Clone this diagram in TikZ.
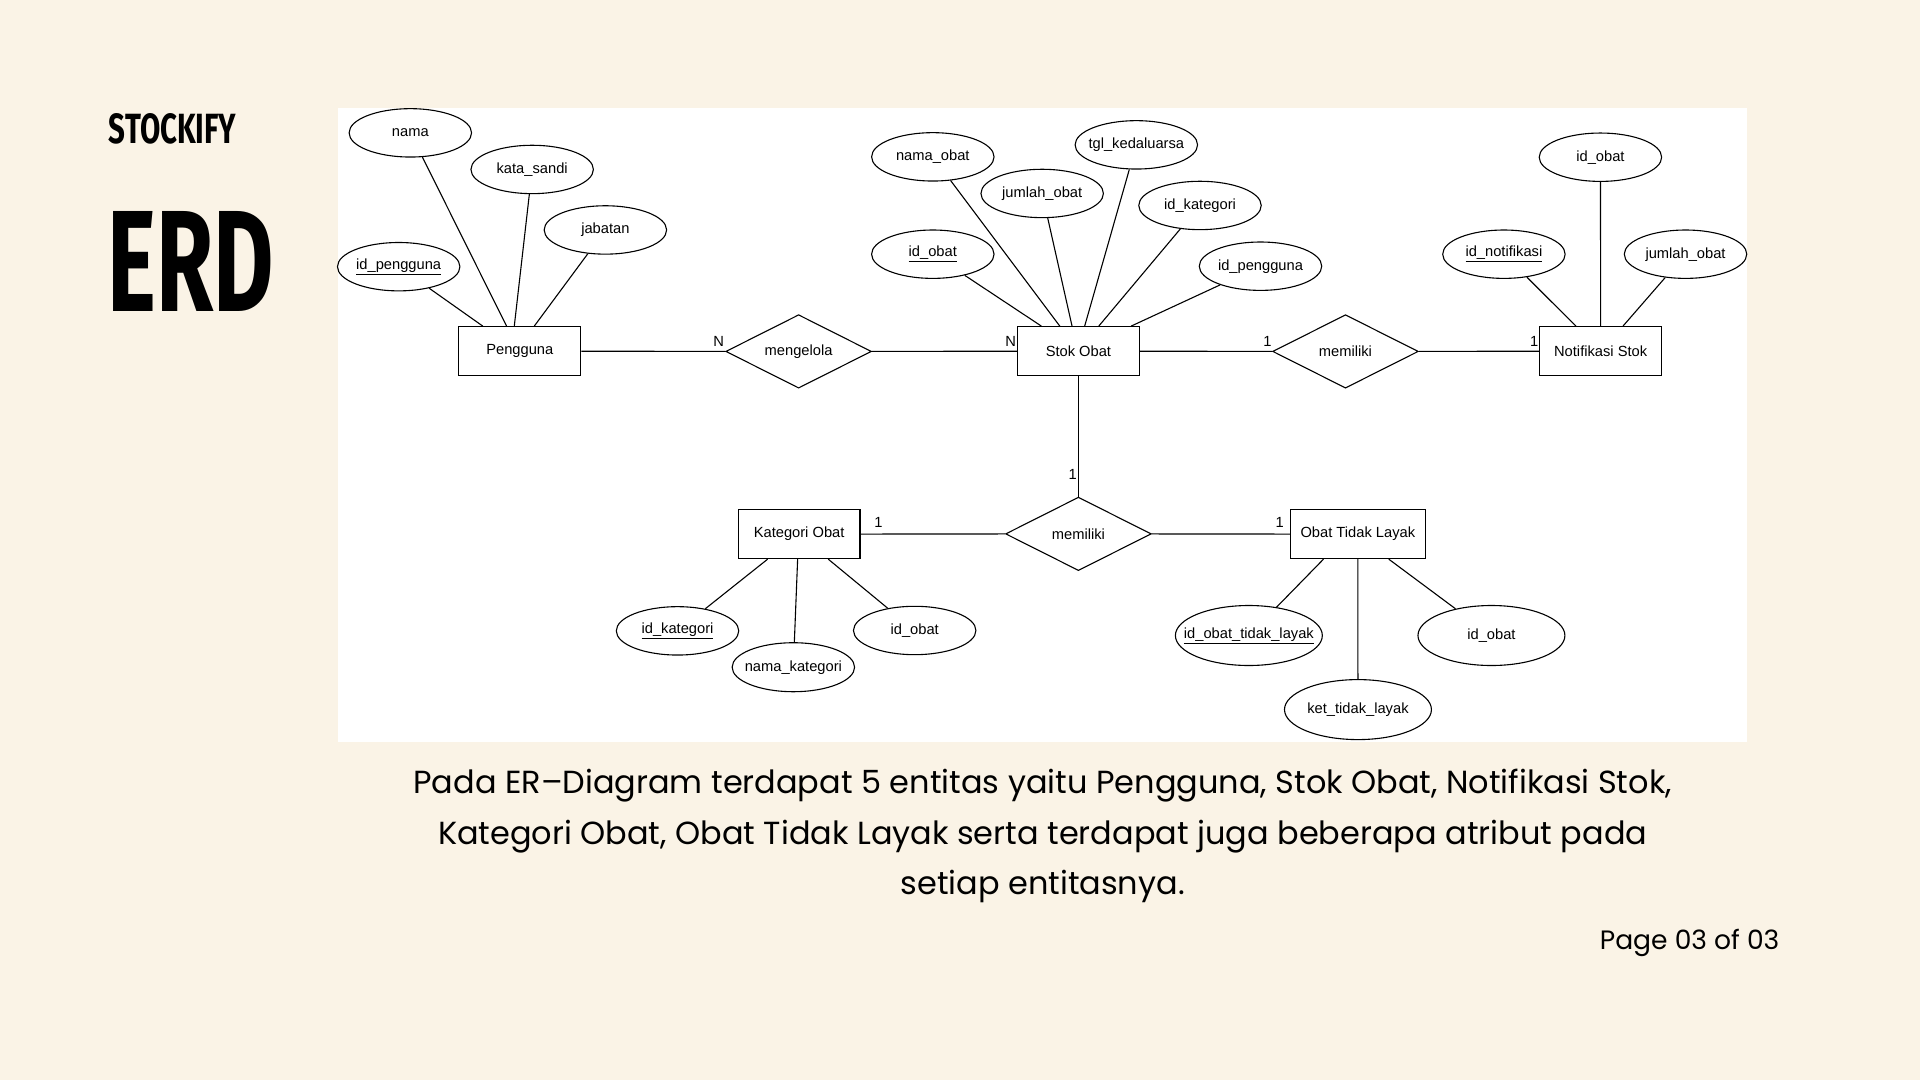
\documentclass[tikz,border=0pt]{standalone}
\usepackage{fontspec}
\usepackage{graphicx}
\setmainfont{Poppins}
\newfontfamily\erfont{Liberation Sans}
\newfontfamily\titlefont{Fira Sans}
\usetikzlibrary{shapes.geometric,calc}
\definecolor{bgcream}{RGB}{250,243,230}
\newcommand{\zw}[1]{\makebox[0pt]{#1}}
\begin{document}
\begin{tikzpicture}[x=1pt,y=-1pt,
  erf/.style={font=\erfont\fontsize{12}{14}\selectfont},
  ent/.style={erf, draw, rectangle, minimum width=99.5pt, minimum height=40pt, inner sep=0pt},
  attr/.style={erf, draw, ellipse, minimum width=100pt, minimum height=39.5pt, inner sep=0pt},
  bigattr/.style={attr, minimum width=120pt, minimum height=49pt},
  rel/.style={erf, draw, diamond, aspect=2, minimum width=119pt, minimum height=60pt, inner sep=0pt},
  card/.style={font=\erfont\fontsize{12}{14}\selectfont, anchor=base, inner sep=0pt},
  conn/.style={line width=0.9pt},
  body/.style={font=\fontsize{26.1}{30}\selectfont, anchor=base, inner sep=0pt},
  every node/.append style={line width=0.9pt}]
\useasboundingbox (0,0) rectangle (1568,882);
\fill[bgcream] (0,0) rectangle (1568,882);
\fill[white] (275.8,87.9) rectangle (1427,605.7);

% titles
\node[anchor=south west, inner sep=0pt] (stockify) at (88.5,118.4) {\resizebox{104pt}{24.5pt}{\titlefont\bfseries STOCKIFY}};
\node[anchor=south west, inner sep=0pt] (erd) at (87.5,254.5) {\resizebox{136pt}{81.7pt}{\titlefont\bfseries ERD}};

% entities
\node[ent] (peng) at (424.5,286.8) {\zw{Pengguna}};
\node[ent] (stok) at (880.7,286.8) {\zw{Stok Obat}};
\node[ent] (notif) at (1307.2,286.8) {\zw{Notifikasi Stok}};
\node[ent] (kat) at (652.6,436.2) {\zw{Kategori Obat}};
\node[ent, minimum width=109.8pt] (otl) at (1108.9,436.2) {\zw{Obat Tidak Layak}};

% relationships
\node[rel] (mengelola) at (652.2,287) {\zw{mengelola}};
\node[rel] (memA) at (1098.8,287) {\zw{memiliki}};
\node[rel] (memB) at (880.7,436) {\zw{memiliki}};

% attributes of Pengguna
\node[attr] (pNama) at (335.1,108.5) {\zw{nama}};
\node[attr] (pSandi) at (434.6,138.4) {\zw{kata\_sandi}};
\node[attr] (pJab) at (494.4,187.8) {\zw{jabatan}};
\node[attr] (pId) at (325.6,217.8) {\zw{\underline{id\_pengguna}}};

% attributes of Stok Obat
\node[attr] (sNama) at (761.8,128.1) {\zw{nama\_obat}};
\node[attr] (sJml) at (851.1,158) {\zw{jumlah\_obat}};
\node[attr] (sTgl) at (928,118.3) {\zw{tgl\_kedaluarsa}};
\node[attr] (sKat) at (980,167.8) {\zw{id\_kategori}};
\node[attr] (sId) at (761.8,207.6) {\zw{\underline{id\_obat}}};
\node[attr] (sPeng) at (1029.4,217.4) {\zw{id\_pengguna}};

% attributes of Notifikasi Stok
\node[attr] (nObat) at (1307,128.4) {\zw{id\_obat}};
\node[attr] (nId) at (1228.2,207.6) {\zw{\underline{id\_notifikasi}}};
\node[attr] (nJml) at (1376.5,207.6) {\zw{jumlah\_obat}};

% attributes of Kategori Obat
\node[attr] (kId) at (553.3,515.2) {\zw{\underline{id\_kategori}}};
\node[attr, minimum height=40pt] (kNama) at (647.9,544.9) {\zw{nama\_kategori}};
\node[attr] (kObat) at (747,514.9) {\zw{id\_obat}};

% attributes of Obat Tidak Layak
\node[bigattr] (oId) at (1019.9,519) {\zw{\underline{id\_obat\_tidak\_layak}}};
\node[bigattr] (oKet) at (1109,579.5) {\zw{ket\_tidak\_layak}};
\node[bigattr] (oObat) at (1218,519) {\zw{id\_obat}};

% relationship connectors
\draw[conn] (peng) -- (mengelola);
\draw[conn] (mengelola) -- (stok);
\draw[conn] (stok) -- (memA);
\draw[conn] (memA) -- (notif);
\draw[conn] (stok) -- (memB);
\draw[conn] (kat) -- (memB);
\draw[conn] (memB) -- (otl);

% cardinalities
\node[card] (c1) at (587,282.6) {N};
\node[card] (c2) at (825.3,282.6) {N};
\node[card] (c3) at (1035,282.6) {1};
\node[card] (c4) at (1253,282.6) {1};
\node[card] (c5) at (876,391.5) {1};
\node[card] (c6) at (717.5,431) {1};
\node[card] (c7) at (1045,431) {1};

% attribute connectors
\draw[conn] (pNama) -- ([xshift=39.4pt]peng.north west);
\draw[conn] (pSandi) -- ([xshift=45.7pt]peng.north west);
\draw[conn] (pJab) -- ([xshift=62pt]peng.north west);
\draw[conn] (pId) -- ([xshift=20pt]peng.north west);

\draw[conn] (sId) -- ([xshift=20pt]stok.north west);
\draw[conn] (sNama) -- ([xshift=35pt]stok.north west);
\draw[conn] (sJml) -- ([xshift=45pt]stok.north west);
\draw[conn] (sTgl) -- ([xshift=55.3pt]stok.north west);
\draw[conn] (sKat) -- ([xshift=66.8pt]stok.north west);
\draw[conn] (sPeng) -- ([xshift=93.2pt]stok.north west);

\draw[conn] (nId) -- ([xshift=30pt]notif.north west);
\draw[conn] (nObat) -- (notif.north);
\draw[conn] (nJml) -- ([xshift=68.4pt]notif.north west);

\draw[conn] ([xshift=24.5pt]kat.south west) -- (kId);
\draw[conn] ([xshift=49pt]kat.south west) -- (kNama);
\draw[conn] ([xshift=74pt]kat.south west) -- (kObat);

\draw[conn] ([xshift=27.3pt]otl.south west) -- (oId);
\draw[conn] (otl.south) -- (oKet);
\draw[conn] ([xshift=80.6pt]otl.south west) -- (oObat);

% caption
\node[body] (l1) at (851.5,648.2) {Pada ER–Diagram terdapat 5 entitas yaitu Pengguna, Stok Obat, Notifikasi Stok,};
\node[body] (l2) at (851.5,689.5) {Kategori Obat, Obat Tidak Layak serta terdapat juga beberapa atribut pada};
\node[body] (l3) at (851.5,730.8) {setiap entitasnya.};
\node[font=\fontsize{21.7}{25}\selectfont, anchor=base east, inner sep=0pt] (page) at (1453.6,775.3) {Page 03 of 03};
\end{tikzpicture}
\end{document}
